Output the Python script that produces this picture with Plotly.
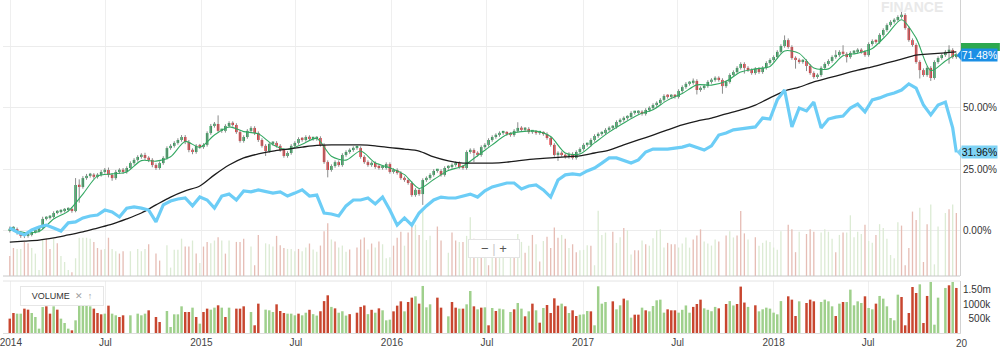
import pandas as pd
import plotly.graph_objects as go

# ---------------- data (weekly, % change since start) ----------------
start_date = "2013-12-30"

close = [
0.8,0.8,-0.8,-2.0,-2.0,-1.6,-0.4,0.0,1.2,4.9,
5.3,5.7,7.3,7.7,8.1,8.5,8.9,8.1,18.7,17.9,
21.5,22.4,22.8,22.0,22.8,24.0,24.8,22.8,21.5,24.0,
24.8,24.0,25.6,27.6,28.9,30.1,30.9,29.7,28.9,26.8,
25.6,27.6,29.7,33.7,34.6,35.8,37.0,38.2,36.2,32.9,
32.1,34.6,34.1,35.0,39.8,42.7,43.5,40.7,40.7,42.7,
43.9,43.1,40.2,36.6,38.2,40.7,41.9,39.8,37.0,34.6,
32.5,35.4,35.8,34.6,32.9,30.5,31.7,34.6,35.8,37.4,
37.0,38.2,37.4,37.4,37.8,35.0,28.0,24.8,26.4,28.0,
26.8,30.9,32.1,32.9,33.7,33.7,30.1,28.0,26.8,27.6,
26.0,25.6,25.6,27.2,24.0,24.8,23.6,21.5,20.7,19.5,
14.6,16.7,15.0,20.7,21.5,22.8,24.4,24.4,22.8,25.6,
26.0,26.8,27.6,26.0,25.6,32.1,32.9,31.7,30.9,34.1,
35.0,37.0,38.2,39.0,39.8,39.8,39.4,39.0,40.7,41.9,
41.1,41.5,40.2,40.2,39.8,39.8,39.4,37.8,35.0,30.9,
31.7,30.9,30.1,31.3,29.7,32.1,33.3,35.0,35.0,37.0,
38.6,39.4,39.8,41.1,41.9,42.3,44.3,45.1,45.9,46.3,
48.0,48.0,48.4,47.6,49.2,50.0,51.2,52.0,53.3,54.9,
54.5,54.9,54.5,56.9,58.5,59.8,60.2,61.0,57.3,58.1,
58.9,60.6,61.4,62.2,61.4,58.9,60.6,63.4,64.6,66.3,
67.9,66.3,65.4,64.2,65.9,64.6,66.3,68.3,69.5,70.7,
72.8,75.2,77.6,74.8,70.3,69.5,68.7,69.1,67.1,64.2,
62.6,63.4,66.3,67.9,69.1,70.7,71.5,72.8,72.0,70.7,
72.4,72.8,73.6,72.8,71.5,76.0,77.2,76.8,79.7,81.7,
83.7,85.0,85.8,87.0,87.8,82.5,77.6,75.6,68.7,65.4,
63.4,66.3,62.2,68.7,70.3,71.5,72.8,73.6,70.7,71.48]

open_ = [
0.0,0.8,0.8,-0.8,-2.0,-2.0,-1.6,-0.4,0.0,1.2,
4.9,5.3,5.7,7.3,7.7,8.1,8.5,8.9,8.1,18.7,
17.9,21.5,22.4,22.8,22.0,22.8,24.0,24.8,22.8,21.5,
24.0,24.8,24.0,25.6,27.6,28.9,30.1,30.9,29.7,28.9,
26.8,25.6,27.6,29.7,33.7,34.6,35.8,37.0,38.2,36.2,
32.9,32.1,34.6,34.1,35.0,39.8,42.7,43.5,40.7,40.7,
42.7,43.9,43.1,40.2,36.6,38.2,40.7,41.9,39.8,37.0,
34.6,32.5,35.4,35.8,34.6,32.9,30.5,31.7,34.6,35.8,
37.4,37.0,38.2,37.4,37.4,37.8,35.0,28.0,24.8,26.4,
28.0,26.8,30.9,32.1,32.9,33.7,33.7,30.1,28.0,26.8,
27.6,26.0,25.6,25.6,27.2,24.0,24.8,23.6,21.5,20.7,
19.5,14.6,16.7,15.0,20.7,21.5,22.8,24.4,24.4,22.8,
25.6,26.0,26.8,27.6,26.0,25.6,32.1,32.9,31.7,30.9,
34.1,35.0,37.0,38.2,39.0,39.8,39.8,39.4,39.0,40.7,
41.9,41.1,41.5,40.2,40.2,39.8,39.8,39.4,37.8,35.0,
30.9,31.7,30.9,30.1,31.3,29.7,32.1,33.3,35.0,35.0,
37.0,38.6,39.4,39.8,41.1,41.9,42.3,44.3,45.1,45.9,
46.3,48.0,48.0,48.4,47.6,49.2,50.0,51.2,52.0,53.3,
54.9,54.5,54.9,54.5,56.9,58.5,59.8,60.2,61.0,57.3,
58.1,58.9,60.6,61.4,62.2,61.4,58.9,60.6,63.4,64.6,
66.3,67.9,66.3,65.4,64.2,65.9,64.6,66.3,68.3,69.5,
70.7,72.8,75.2,77.6,74.8,70.3,69.5,68.7,69.1,67.1,
64.2,62.6,63.4,66.3,67.9,69.1,70.7,71.5,72.8,72.0,
70.7,72.4,72.8,73.6,72.8,71.5,76.0,77.2,76.8,79.7,
81.7,83.7,85.0,85.8,87.0,87.8,82.5,77.6,75.6,68.7,
65.4,63.4,66.3,62.2,68.7,70.3,71.5,72.8,73.6,70.7]

high = [
1.8,1.9,1.4,-0.1,-1.3,-0.9,0.3,0.8,2.0,5.8,
6.0,6.5,8.0,8.5,8.8,9.3,9.6,9.6,21.5,21.0,
22.3,23.2,23.6,23.5,23.5,24.8,25.6,25.8,23.5,24.8,
25.5,25.6,26.3,28.3,29.6,30.8,31.6,31.8,30.4,29.6,
27.5,28.3,30.4,34.4,35.3,36.5,37.7,39.0,39.0,37.0,
33.6,35.3,35.4,35.7,40.5,43.5,44.3,47.0,41.4,43.4,
44.6,44.6,43.8,40.9,38.9,41.4,42.6,42.6,40.5,37.7,
35.3,36.1,36.5,36.5,35.3,33.6,32.4,35.3,36.5,38.1,
38.1,38.9,38.9,38.1,38.5,38.5,35.7,28.7,27.1,28.7,
28.7,31.6,32.8,33.6,34.4,34.4,34.4,30.8,28.7,28.3,
28.3,26.7,26.3,27.9,27.9,25.5,25.5,24.3,22.2,21.4,
20.2,17.4,17.4,21.4,22.2,23.5,25.1,25.1,25.1,26.3,
26.7,27.5,28.3,28.3,26.7,32.8,33.6,33.6,32.4,34.8,
35.7,37.7,38.9,39.7,40.5,40.5,40.5,40.1,41.4,44.2,
42.6,42.2,42.2,40.9,40.9,40.5,40.5,40.1,38.5,35.7,
32.4,32.4,31.6,32.0,32.0,32.8,34.0,35.7,35.7,37.7,
39.3,40.1,40.5,41.8,42.6,43.0,45.0,45.8,46.6,47.0,
48.7,48.7,49.1,49.1,49.9,50.7,51.9,52.7,54.0,55.6,
55.6,55.6,55.6,57.6,59.2,60.5,60.9,62.0,61.7,58.8,
59.6,61.3,62.1,62.9,62.9,62.1,61.3,64.1,65.3,67.0,
68.6,68.6,67.0,66.1,66.6,66.6,67.0,69.0,70.2,71.4,
73.5,75.9,79.5,78.3,75.5,71.0,70.2,69.8,69.8,67.8,
64.9,64.1,67.0,68.6,69.8,71.4,73.5,73.5,75.5,72.7,
73.1,73.5,74.3,74.3,73.5,76.7,77.9,77.9,80.4,82.4,
84.4,85.7,86.5,87.7,89.5,88.5,83.2,78.3,76.3,69.4,
66.1,67.0,67.0,69.4,71.0,72.2,73.5,75.5,74.3,72.2]

low = [
-0.6,-0.2,-1.5,-2.8,-2.9,-2.7,-2.2,-1.0,-0.6,0.6,
4.3,4.7,5.1,6.8,7.1,7.5,7.9,7.4,7.6,11.5,
17.2,20.8,21.7,21.2,21.3,22.1,23.3,21.8,20.4,20.8,
23.3,23.2,23.3,24.9,26.9,28.2,29.4,28.9,28.0,25.9,
24.8,24.9,26.9,29.0,33.0,33.9,35.1,36.3,35.3,32.0,
31.2,31.4,33.4,33.4,34.3,39.1,42.0,39.9,39.9,40.0,
42.0,42.4,39.5,35.9,35.9,37.5,40.0,39.0,36.2,33.9,
30.5,31.8,34.7,33.9,32.2,29.8,29.8,31.0,33.9,35.1,
36.3,36.3,36.7,36.7,36.7,34.3,27.3,21.8,24.1,25.7,
26.1,26.1,30.2,31.4,32.2,33.0,29.4,27.3,26.1,26.1,
25.3,24.9,24.9,24.9,23.3,23.3,22.9,20.8,20.0,18.8,
13.9,13.9,14.3,10.6,20.0,20.8,22.1,23.7,22.1,22.1,
24.9,25.3,26.1,25.3,24.9,24.9,31.4,28.0,30.2,30.2,
33.4,34.3,36.3,37.5,38.3,39.1,38.7,38.3,38.3,40.0,
40.4,40.4,39.5,39.5,39.1,39.1,38.7,37.1,34.3,30.2,
28.5,30.2,29.4,29.4,29.0,29.0,31.4,32.6,34.3,34.3,
36.3,37.9,38.7,39.1,40.4,41.2,41.6,43.6,44.4,45.2,
45.6,47.3,47.3,46.9,46.9,48.5,49.3,50.5,51.3,52.6,
53.8,53.8,53.8,53.8,56.2,57.8,59.1,59.5,55.5,56.6,
57.4,58.2,59.9,60.7,60.7,55.8,58.2,59.9,62.7,63.9,
65.6,64.0,64.7,63.5,63.5,63.9,63.9,65.6,67.6,68.8,
70.0,72.1,74.5,74.1,69.6,66.0,68.0,68.0,65.0,63.5,
61.9,61.9,62.7,65.6,67.2,68.4,70.0,70.8,71.3,68.5,
70.0,71.7,72.1,72.1,70.8,70.8,75.3,76.1,76.1,79.0,
81.0,83.0,84.3,85.1,86.3,81.8,76.9,74.9,68.0,62.0,
62.7,62.7,61.0,61.5,68.0,69.6,70.8,68.0,70.0,70.0]

# short moving average (green), read every 4 weeks + last week
short_ma = [
0.8,-0.6,-0.2,4.9,8.1,15.0,22.3,23.2,24.0,28.6,
28.4,30.2,36.4,34.0,39.0,42.3,40.4,39.5,35.1,33.1,
35.3,37.6,30.4,28.8,32.5,27.7,25.7,22.9,17.3,20.9,
24.6,26.4,30.6,35.0,39.2,40.4,40.6,38.4,31.7,31.3,
35.8,40.2,43.9,47.3,49.3,53.2,55.9,59.4,59.3,60.9,
64.6,65.9,66.9,73.2,72.2,66.3,65.9,71.2,72.3,74.2,
79.8,85.9,78.4,65.2,69.1,72.0]

# long moving average (black), read every 4 weeks + last week
long_ma = [
-4.5,-4.1,-3.7,-2.8,-1.6,-0.4,1.2,2.8,4.9,7.3,
10.6,13.8,16.3,18.3,22.8,26.8,29.7,31.3,32.5,33.3,
34.1,34.8,35.0,35.0,35.0,34.6,33.9,33.3,32.5,30.1,
28.5,27.6,27.6,27.6,28.0,28.7,29.3,29.7,30.1,30.5,
31.7,32.9,35.0,37.0,39.0,41.1,43.1,44.7,45.9,47.6,
49.2,51.2,54.1,56.9,58.5,60.6,62.2,63.8,65.4,66.7,
68.3,69.9,71.5,72.0,72.4,72.8]

# comparison series (blue), read every 2 weeks + last week
compare = [
1.2,-0.4,-1.6,0.4,1.6,2.4,1.2,0.0,3.3,3.7,
5.3,6.1,6.5,8.5,7.7,5.7,9.3,9.8,9.3,8.5,
3.7,10.6,12.2,13.0,13.4,10.2,13.8,12.6,9.3,14.2,
15.0,12.6,16.3,15.9,16.7,15.9,15.4,15.9,14.2,15.4,
16.7,14.2,14.6,7.3,6.9,6.1,10.2,12.6,12.6,13.4,
11.0,13.8,8.5,2.4,5.3,2.4,7.3,10.2,12.6,13.8,
13.4,13.4,14.2,15.0,13.8,16.3,17.9,18.7,19.5,19.5,
17.1,18.3,18.7,16.7,13.8,20.7,22.8,23.2,22.8,24.4,
25.6,27.6,29.7,29.7,28.5,27.6,28.9,32.1,33.3,33.3,
33.3,33.7,34.1,35.0,34.1,32.9,34.6,39.0,39.8,41.1,
41.5,41.9,42.3,45.9,45.5,53.3,57.3,42.3,50.0,48.8,
52.4,41.9,45.5,46.3,46.7,50.0,51.6,48.4,53.3,54.1,
55.3,56.1,57.3,59.8,58.1,51.2,47.2,51.2,52.4,41.9,
31.96]

# weekly volume in thousands (None = no bar)
volume_k = [
495,690,667,667,840,805,690,552,150,897,
920,667,920,805,495,345,150,92,437,943,
943,943,920,840,690,644,667,943,667,610,
552,610,None,610,None,667,610,667,782,None,
552,380,None,759,207,644,644,920,725,725,
874,552,322,725,840,805,874,955,874,552,
874,None,840,840,920,None,725,265,1012,None,
805,782,725,989,759,690,667,667,610,667,
610,700,800,650,600,750,1100,1300,900,850,
700,750,600,650,None,700,900,950,650,800,
700,850,782,437,460,747,943,1092,747,1070,
1219,1265,1012,1622,885,989,None,1219,874,None,
575,1070,874,840,840,989,1449,920,816,874,
885,265,862,759,840,816,None,725,816,1035,
840,575,747,1012,782,356,862,966,690,1196,
943,1012,920,690,782,587,632,644,759,747,
265,1610,1012,1070,None,1092,816,955,1185,1127,
529,632,632,874,782,747,932,1127,1150,702,
816,782,782,702,800,950,700,900,1000,1150,
850,800,750,900,850,None,1000,1100,950,1000,
1600,1050,900,None,955,747,817,874,840,702,
644,1100,None,1265,1150,587,1092,None,1035,1150,
1092,None,1070,1150,1092,920,587,1012,1070,1070,
1495,955,1092,1035,1265,862,817,1012,1277,1185,
920,517,437,1322,1242,265,690,1587,1380,1679,
345,1277,1760,287,1219,None,1553,1645,1760,1553]

# volume bar direction (g = up, r = down, - = none)
volume_dir = list(
"rrggrrgggg" "rrgrgggrgg" "gggrrrgrgg" "rr-g-gggr-" "rr-gggggrr"
"grgrrggrgr" "g-rrr-grr-" "gggrrrgggr" "ggrggrrrgr" "gggr-rrrgr"
"grgggrrrgr" "rgrggg-rr-" "grrgrggrgr" "grgrgg-grg" "grgrgrgrrr"
"rgrgrrgggr" "gggg-rggrg" "grrgrggggg" "rrrggggrrr" "ggggr-rggr"
"rrg-rggggg" "gg-rrrg-rr" "r-ggggrgrg" "ggggrggrgg" "ggggrrrrrg"
"rrggg-grgr")

x_tickvals = ["2014-01-01", "2014-07-01", "2015-01-01", "2015-07-01", "2016-01-01",
              "2016-07-01", "2017-01-01", "2017-07-01", "2018-01-01", "2018-07-01"]
x_ticktext = ["2014", "Jul", "2015", "Jul", "2016", "Jul", "2017", "Jul", "2018", "Jul"]
price_tickvals = [0, 25, 50, 75]
price_ticktext = ["0.00%", "25.00%", "50.00%", ""]
vol_tickvals = [500, 1000, 1500]
vol_ticktext = ["\u2007500k", "1000k", "1.50m"]
last_price_label = "71.48%"
last_compare_label = "31.96%"

# ---------------- styling ----------------
X_RANGE = ["2013-12-17", "2018-12-24"]
UP, DOWN, WICK = "#1d9e4e", "#e42a2f", "#8c8c8c"
VOL_UP, VOL_DOWN = "#9fd08c", "#c8462f"
FAINT_UP, FAINT_DOWN = "#dcebd4", "#e6bdb5"
GRID = "#efefef"
FONT = "Liberation Sans, Arial, sans-serif"
WEEK_MS = 7 * 24 * 3600 * 1000

weeks = pd.date_range(start_date, periods=len(close), freq="7D")
last = len(close) - 1
idx4 = list(range(0, len(close), 4)) + [last]
idx2 = list(range(0, len(close), 2)) + [last]

fig = go.Figure()

# faint volume overlay in the price panel
faint_cols = [FAINT_UP if d == "g" else FAINT_DOWN for d in volume_dir]
fig.add_trace(go.Bar(x=weeks, y=volume_k, marker=dict(color=faint_cols, line_width=0),
                     width=0.36 * WEEK_MS, xaxis="x", yaxis="y", hoverinfo="skip"))

# candle wicks
wx, wy = [], []
for d, lo, hi in zip(weeks, low, high):
    wx += [d, d, None]
    wy += [lo, hi, None]
fig.add_trace(go.Scatter(x=wx, y=wy, mode="lines", line=dict(color=WICK, width=1),
                         xaxis="x", yaxis="y3", hoverinfo="skip"))

# candle bodies
body_base = [min(o, c) for o, c in zip(open_, close)]
body_len = [max(abs(c - o), 0.9) for o, c in zip(open_, close)]
body_col = [UP if c >= o else DOWN for o, c in zip(open_, close)]
fig.add_trace(go.Bar(x=weeks, y=body_len, base=body_base,
                     marker=dict(color=body_col, line_width=0),
                     width=0.7 * WEEK_MS, xaxis="x", yaxis="y3"))

# moving averages and comparison line
fig.add_trace(go.Scatter(x=weeks[idx4], y=short_ma, mode="lines",
                         line=dict(color="#33a862", width=1.1, shape="spline", smoothing=0.8),
                         xaxis="x", yaxis="y3"))
fig.add_trace(go.Scatter(x=weeks[idx4], y=long_ma, mode="lines",
                         line=dict(color="#1c1c1c", width=1.3, shape="spline", smoothing=0.8),
                         xaxis="x", yaxis="y3"))
fig.add_trace(go.Scatter(x=weeks[idx2], y=compare, mode="lines",
                         line=dict(color="#6ccdf6", width=3.2),
                         xaxis="x", yaxis="y3"))

# volume panel
vol_cols = [VOL_UP if d == "g" else VOL_DOWN for d in volume_dir]
fig.add_trace(go.Bar(x=weeks, y=volume_k, marker=dict(color=vol_cols, line_width=0),
                     width=0.68 * WEEK_MS, xaxis="x2", yaxis="y2"))

MAIN_BOTTOM = 57 / 333
VOL_TOP = 52 / 333

fig.update_layout(
    width=1000, height=357,
    margin=dict(l=0, r=40, t=0, b=24),
    paper_bgcolor="white", plot_bgcolor="white",
    showlegend=False, barmode="overlay", hovermode=False,
    font=dict(family=FONT, size=10, color="#444"),
    xaxis=dict(domain=[0, 1], anchor="y", type="date", range=X_RANGE,
               tickvals=x_tickvals, showticklabels=False,
               showgrid=True, gridcolor=GRID, zeroline=False, showline=False),
    yaxis=dict(domain=[MAIN_BOTTOM, 1], anchor="x", range=[0, 6800], visible=False,
               showgrid=False, zeroline=False),
    yaxis3=dict(overlaying="y", anchor="x", side="right", range=[-18.3, 93.9],
                tickvals=price_tickvals, ticktext=price_ticktext,
                tickfont=dict(size=10, color="#333"),
                showgrid=True, gridcolor="#ececec", zeroline=False,
                showline=True, linecolor="#d2d2d2", ticks=""),
    xaxis2=dict(domain=[0, 1], anchor="y2", type="date", range=X_RANGE,
                tickvals=x_tickvals, ticktext=x_ticktext,
                tickfont=dict(size=10, color="#444"), ticklabeloverflow="allow",
                showgrid=True, gridcolor=GRID, zeroline=False,
                showline=True, linecolor="#dddddd", ticks=""),
    yaxis2=dict(domain=[0, VOL_TOP], anchor="x2", side="right", range=[0, 1793],
                tickvals=vol_tickvals, ticktext=vol_ticktext,
                tickfont=dict(size=10, color="#333"),
                showgrid=False, zeroline=False,
                showline=True, linecolor="#d2d2d2", ticks=""),
)

shapes = [
    dict(type="line", xref="paper", yref="paper", x0=0, x1=1, y0=MAIN_BOTTOM, y1=MAIN_BOTTOM,
         line=dict(color="#c8c8c8", width=1)),
    dict(type="line", xref="paper", yref="paper", x0=0, x1=1, y0=VOL_TOP, y1=VOL_TOP,
         line=dict(color="#e4e4e4", width=1)),
    # green price badge peeking behind the blue one
    dict(type="rect", xref="paper", yref="paper", x0=961 / 960, x1=1000 / 960,
         y0=(333 - 51) / 333, y1=(333 - 43) / 333, fillcolor="#2da84f", line_width=0),
    dict(type="path", xref="paper", yref="y3",
         path="M 0.9965,71.48 L 1.0015,73.7 L 1.0015,69.3 Z", fillcolor="#1b8fe5", line_width=0),
    dict(type="path", xref="paper", yref="y3",
         path="M 0.9965,31.96 L 1.0015,34.1 L 1.0015,29.8 Z", fillcolor="#7fd3f5", line_width=0),
]
fig.update_layout(shapes=shapes)

annotations = [
    dict(text=last_price_label, xref="paper", yref="y3", x=1.0015, y=close[-1],
         xanchor="left", yanchor="middle", showarrow=False, bgcolor="#1b8fe5",
         font=dict(color="white", size=10.5, family=FONT), width=35, height=12, borderpad=0),
    dict(text=last_compare_label, xref="paper", yref="y3", x=1.0015, y=compare[-1],
         xanchor="left", yanchor="middle", showarrow=False, bgcolor="#7fd3f5",
         font=dict(color="#111", size=10.5, family=FONT), width=35, height=12, borderpad=0),
    dict(text="<b>FINANCE</b>", xref="paper", yref="paper", x=912 / 960, y=(333 - 7) / 333,
         xanchor="center", yanchor="middle", showarrow=False,
         font=dict(color="#e9e9e9", size=14, family=FONT)),
    dict(text="VOLUME  <span style='color:#a0a0a0'>\u2715  \u2191</span>",
         xref="paper", yref="paper", x=17 / 960, y=(333 - 296) / 333,
         xanchor="left", yanchor="middle", showarrow=False, bgcolor="white",
         bordercolor="#e6e6e6", borderwidth=1, borderpad=2, width=78, height=14,
         font=dict(color="#333", size=9, family=FONT)),
    dict(text="\u2212 <span style='color:#cccccc'>|</span> +",
         xref="paper", yref="paper", x=493 / 960, y=(333 - 248) / 333,
         xanchor="center", yanchor="middle", showarrow=False, bgcolor="white",
         bordercolor="#e4e4e4", borderwidth=1, borderpad=1, width=48, height=15,
         font=dict(color="#555", size=13, family=FONT)),
    dict(text="20", xref="paper", yref="paper", x=954 / 960, y=(333 - 343) / 333,
         xanchor="left", yanchor="middle", showarrow=False,
         font=dict(color="#444", size=10, family=FONT)),
]
fig.update_layout(annotations=annotations)

fig.write_html("out.html",
               config={"displayModeBar": False, "staticPlot": True},
               post_script="document.body.style.margin='0';document.body.style.overflow='hidden';")
